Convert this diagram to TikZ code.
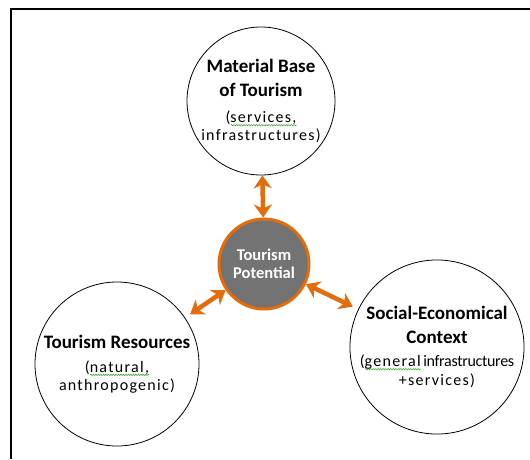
\documentclass[tikz,border=0pt]{standalone}
\usepackage{fontspec}
\setmainfont{Carlito}
\newfontfamily\spacedfont[LetterSpace=8]{Carlito}
\usetikzlibrary{arrows.meta,decorations.pathmorphing}
\definecolor{potorange}{RGB}{228,108,10}
\definecolor{potgray}{RGB}{115,115,115}
\definecolor{squig}{RGB}{70,170,60}
\newsavebox\wavybox
\newcommand\wavy[1]{\sbox\wavybox{#1}\rlap{\tikz[baseline=0pt]\draw[squig,line width=.6pt,decorate,decoration={snake,amplitude=.7pt,segment length=2.5pt}](0pt,-2.6pt)--(\wd\wavybox,-2.6pt);}\usebox\wavybox}
\newcommand\titlefont{\fontsize{19}{24}\selectfont\bfseries}
\newcommand\subfont{\fontsize{16}{19}\spacedfont\mdseries}
\begin{document}
\begin{tikzpicture}[x=1pt,y=-1pt,
    topic/.style={circle,draw,line width=.8pt,align=center,inner sep=0pt,font=\titlefont},
    link/.style={potorange,line width=4.5pt,{Stealth[length=13pt,width=18pt,inset=4pt]}-{Stealth[length=13pt,width=18pt,inset=4pt]}}]
    \useasboundingbox (0,0) rectangle (530,459);
    \draw[line width=2.5pt](11,459)--(11,9)--(531,9);
    % the four circles
    \node[topic,minimum size=148pt] (mat) at (261,101)
        {Material Base\\of Tourism\\[2pt]
         \subfont (\wavy{services,}\\[-6pt]\subfont infrastructures)};
    \node[topic,minimum size=90pt,fill=potgray,draw=potorange,line width=3pt,
          text=white,font=\fontsize{16.5}{20}\selectfont\bfseries] (pot) at (264,264)
        {Tourism\\[-2pt]Potential};
    \node[topic,minimum size=164pt] (res) at (117,364)
        {Tourism Resources\\[0pt]
         \subfont (\wavy{natural,}\\[-6pt]\subfont anthropogenic)};
    \node[topic,minimum size=168pt] (soc) at (437,347)
        {Social-Economical\\Context\\[-1pt]
         \subfont (\wavy{general}\,{\fontsize{16}{19}\selectfont\mdseries\addfontfeature{LetterSpace=-2}infrastructures}\\[-5pt]\subfont +services)};
    % arrows between them
    \draw[link](mat)--(pot);
    \draw[link,shorten >=6pt](pot)--(res);
    \draw[link,shorten >=6pt](pot)--(soc);
\end{tikzpicture}
\end{document}
